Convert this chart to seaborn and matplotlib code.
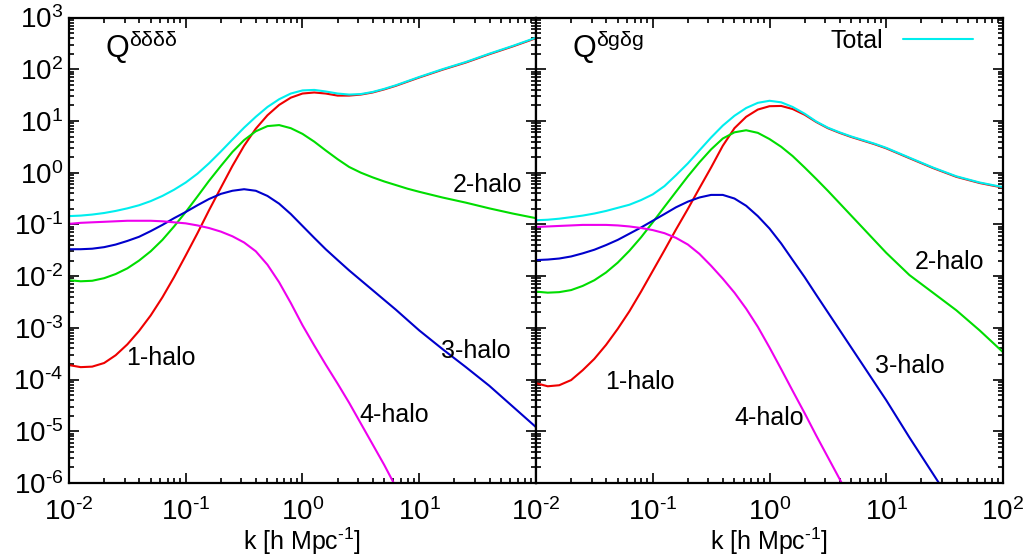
import numpy as np
import pandas as pd
import seaborn as sns
import matplotlib
matplotlib.use("Agg")
import matplotlib.pyplot as plt
from matplotlib.ticker import LogLocator, FuncFormatter, NullFormatter
from matplotlib.mathtext import MathTextParser

sns.set_style("ticks")
plt.rcParams["font.family"] = ["Liberation Sans", "DejaVu Sans"]
plt.rcParams["mathtext.fontset"] = "custom"
plt.rcParams["mathtext.rm"] = "Liberation Sans"
plt.rcParams["mathtext.it"] = "Liberation Sans:italic"
plt.rcParams["mathtext.bf"] = "Liberation Sans:bold"
plt.rcParams["axes.unicode_minus"] = False
for key in ["text.color", "axes.labelcolor", "xtick.color", "ytick.color", "axes.edgecolor"]:
    plt.rcParams[key] = "black"

# ---------------- data: k in h/Mpc; curves as log10(Q) ----------------
k = [0.01, 0.0126, 0.0158, 0.02, 0.0251, 0.0316, 0.0398, 0.0501, 0.0631, 0.0794,
     0.1, 0.126, 0.158, 0.2, 0.251, 0.316, 0.398, 0.501, 0.631, 0.794,
     1.0, 1.26, 1.58, 2.0, 2.51, 3.16, 3.98, 5.01, 6.31, 7.94,
     10.0, 15.8, 25.1, 39.8, 63.1, 100.0]

# left panel: Q^{dddd}
lg_dddd_total = [-0.84, -0.83, -0.81, -0.78, -0.74, -0.69, -0.63, -0.55, -0.45, -0.33,
                 -0.19, -0.02, 0.18, 0.41, 0.64, 0.87, 1.08, 1.27, 1.42, 1.53,
                 1.59, 1.60, 1.57, 1.53, 1.51, 1.52, 1.56, 1.62, 1.69, 1.77,
                 1.85, 2.00, 2.14, 2.30, 2.45, 2.61]
lg_dddd_1h = [-3.72, -3.76, -3.75, -3.68, -3.53, -3.32, -3.06, -2.76, -2.41, -2.02,
              -1.60, -1.17, -0.73, -0.29, 0.13, 0.52, 0.85, 1.11, 1.31, 1.45,
              1.53, 1.55, 1.53, 1.49, 1.49, 1.51, 1.55, 1.61, 1.68, 1.76,
              1.84, 1.99, 2.13, 2.29, 2.44, 2.60]
lg_dddd_2h = [-2.08, -2.10, -2.09, -2.04, -1.96, -1.85, -1.70, -1.52, -1.30, -1.04,
              -0.76, -0.46, -0.16, 0.13, 0.40, 0.63, 0.80, 0.90, 0.92, 0.86,
              0.75, 0.60, 0.43, 0.26, 0.11, 0.00, -0.09, -0.17, -0.24, -0.31,
              -0.37, -0.48, -0.58, -0.69, -0.79, -0.88]
lg_dddd_3h = [-1.48, -1.48, -1.47, -1.44, -1.39, -1.32, -1.24, -1.13, -1.01, -0.88,
              -0.76, -0.63, -0.51, -0.41, -0.35, -0.32, -0.35, -0.45, -0.60, -0.80,
              -1.03, -1.26, -1.48, -1.69, -1.89, -2.08, -2.27, -2.46, -2.65, -2.85,
              -3.05, -3.41, -3.76, -4.12, -4.52, -4.92]
lg_dddd_4h = [-0.99, -0.97, -0.96, -0.95, -0.94, -0.93, -0.93, -0.93, -0.94, -0.96,
              -0.98, -1.02, -1.07, -1.14, -1.23, -1.35, -1.52, -1.78, -2.12, -2.52,
              -2.95, -3.34, -3.71, -4.08, -4.45, -4.85, -5.25, -5.65, -6.08, None,
              None, None, None, None, None, None]

# right panel: Q^{dgdg}
lg_dgdg_total = [-0.92, -0.91, -0.89, -0.86, -0.83, -0.79, -0.74, -0.68, -0.62, -0.53,
                 -0.42, -0.26, -0.05, 0.18, 0.43, 0.68, 0.91, 1.10, 1.25, 1.35,
                 1.39, 1.36, 1.27, 1.14, 0.99, 0.87, 0.78, 0.70, 0.63, 0.56,
                 0.48, 0.29, 0.10, -0.07, -0.19, -0.28]
lg_dgdg_1h = [-4.07, -4.13, -4.11, -4.01, -3.82, -3.60, -3.33, -3.02, -2.68, -2.30,
              -1.90, -1.50, -1.10, -0.70, -0.30, 0.10, 0.52, 0.86, 1.08, 1.22,
              1.285, 1.29, 1.23, 1.12, 0.98, 0.86, 0.77, 0.69, 0.62, 0.55,
              0.47, 0.28, 0.09, -0.08, -0.20, -0.29]
lg_dgdg_2h = [-2.30, -2.32, -2.31, -2.27, -2.19, -2.08, -1.93, -1.74, -1.51, -1.25,
              -0.96, -0.66, -0.37, -0.07, 0.20, 0.45, 0.66, 0.78, 0.82, 0.77,
              0.65, 0.50, 0.32, 0.10, -0.12, -0.35, -0.59, -0.83, -1.07, -1.31,
              -1.55, -1.98, -2.32, -2.66, -3.05, -3.47]
lg_dgdg_3h = [-1.69, -1.68, -1.66, -1.62, -1.56, -1.49, -1.40, -1.30, -1.18, -1.06,
              -0.93, -0.80, -0.67, -0.56, -0.48, -0.43, -0.43, -0.50, -0.64, -0.84,
              -1.08, -1.37, -1.69, -2.02, -2.36, -2.70, -3.04, -3.38, -3.72, -4.06,
              -4.40, -5.12, -5.82, -6.52, None, None]
lg_dgdg_4h = [-1.05, -1.04, -1.03, -1.02, -1.01, -1.01, -1.01, -1.02, -1.04, -1.07,
              -1.11, -1.17, -1.26, -1.39, -1.57, -1.80, -2.05, -2.32, -2.63, -2.98,
              -3.38, -3.80, -4.22, -4.65, -5.08, -5.50, -5.92, -6.35, None, None,
              None, None, None, None, None, None]

components = ["1-halo", "2-halo", "3-halo", "4-halo", "Total"]
colors = {"1-halo": "#ee0000", "2-halo": "#00dd00", "3-halo": "#0000cc",
          "4-halo": "#ee00ee", "Total": "#00eeee"}

panels = [
    {"curves": [lg_dddd_1h, lg_dddd_2h, lg_dddd_3h, lg_dddd_4h, lg_dddd_total],
     "title": r"Q$^{\mathrm{δδδδ}}$",
     "labels": [("1-halo", 0.197, 0.269), ("2-halo", 0.897, 0.640),
                ("3-halo", 0.871, 0.284), ("4-halo", 0.696, 0.146)]},
    {"curves": [lg_dgdg_1h, lg_dgdg_2h, lg_dgdg_3h, lg_dgdg_4h, lg_dgdg_total],
     "title": r"Q$^{\mathrm{δgδg}}$",
     "labels": [("1-halo", 0.223, 0.217), ("2-halo", 0.886, 0.475),
                ("3-halo", 0.801, 0.252), ("4-halo", 0.499, 0.140)]},
]

# hyphen-style minus inside superscripts (as in the original figure)
_parser = MathTextParser("agg")
try:
    _parser.parse(r"$10^{\text{-}2}$", dpi=100)
    MINUS = r"\text{-}"
except Exception:
    MINUS = "-"


def dec_label(x, pos, hide_above=None):
    if hide_above is not None and x > hide_above:
        return ""
    e = int(round(np.log10(x)))
    es = (MINUS + str(-e)) if e < 0 else str(e)
    return r"$\mathregular{10^{%s}}$" % es


fig = plt.figure(figsize=(10.31, 5.59), dpi=100)
ax_l = fig.add_axes([69 / 1031, 1 - 483 / 559, 467 / 1031, 465.5 / 559])
ax_r = fig.add_axes([536 / 1031, 1 - 483 / 559, 467 / 1031, 465.5 / 559], sharey=ax_l)
axes = [ax_l, ax_r]

for i, (ax, p) in enumerate(zip(axes, panels)):
    ax.set_xscale("log")
    ax.set_yscale("log")
    rows = []
    for comp, lg in zip(components, p["curves"]):
        for kk, v in zip(k, lg):
            rows.append({"k": kk, "Q": np.nan if v is None else 10.0 ** v, "comp": comp})
    df = pd.DataFrame(rows).dropna()
    for comp in components:
        sub = df[df["comp"] == comp]
        sns.lineplot(data=sub, x="k", y="Q", ax=ax, color=colors[comp], lw=1.5,
                     estimator=None, sort=False,
                     label=("Total" if (comp == "Total" and i == 1) else None),
                     legend=False)
    ax.set_xlim(1e-2, 1e2)
    ax.set_ylim(1e-6, 1e3)

    ax.xaxis.set_major_locator(LogLocator(base=10, numticks=20))
    ax.xaxis.set_minor_locator(LogLocator(base=10, subs=np.arange(2, 10), numticks=50))
    ax.yaxis.set_major_locator(LogLocator(base=10, numticks=20))
    ax.yaxis.set_minor_locator(LogLocator(base=10, subs=np.arange(2, 10), numticks=50))
    ax.xaxis.set_minor_formatter(NullFormatter())
    ax.yaxis.set_minor_formatter(NullFormatter())
    ax.yaxis.set_major_formatter(FuncFormatter(dec_label))
    if i == 0:
        ax.xaxis.set_major_formatter(FuncFormatter(lambda x, pos: dec_label(x, pos, hide_above=50)))
    else:
        ax.xaxis.set_major_formatter(FuncFormatter(dec_label))
        ax.tick_params(axis="y", which="both", labelleft=False)

    ax.tick_params(which="both", direction="in", top=True, right=True, width=1.2, colors="black")
    ax.tick_params(which="major", length=7, labelsize=20)
    ax.tick_params(which="minor", length=3.5)
    ax.tick_params(axis="x", which="major", pad=11)
    ax.tick_params(axis="y", which="major", pad=4)
    for s in ax.spines.values():
        s.set_linewidth(1.6)
        s.set_color("black")

    ax.set_xlabel(r"k [h Mpc$^{%s1}$]" % MINUS, fontsize=18, labelpad=0)
    ax.set_ylabel("")

    ax.text(0.077, 0.913, p["title"], transform=ax.transAxes, fontsize=22,
            ha="left", va="baseline")
    for txt, xf, yf in p["labels"]:
        ax.text(xf, yf, txt, transform=ax.transAxes, fontsize=18, ha="center", va="center")

leg = ax_r.legend(loc="upper right", bbox_to_anchor=(0.936, 0.975), frameon=False,
                  markerfirst=False, handlelength=2.8, fontsize=18, borderpad=0,
                  borderaxespad=0, handletextpad=0.8)

fig.savefig("out.png", dpi=100)
